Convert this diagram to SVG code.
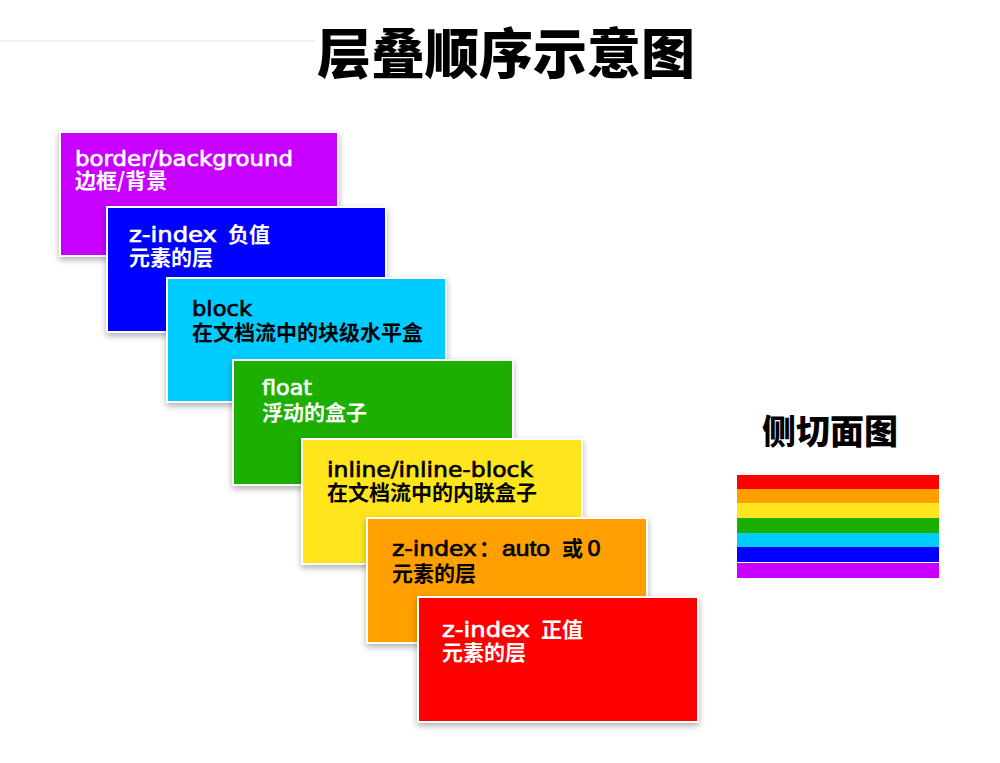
<svg xmlns="http://www.w3.org/2000/svg" width="1000" height="763" viewBox="0 0 1000 763">
<defs>
<filter id="sh" x="-10%" y="-10%" width="125%" height="130%">
<feDropShadow dx="0" dy="3" stdDeviation="3" flood-color="#000" flood-opacity="0.3"/>
</filter>
<style>
.box{stroke:#fff;stroke-width:2;filter:url(#sh)}
.lat{font-family:"DejaVu Sans","Liberation Sans",sans-serif;font-size:22px;stroke-width:0.7}
.cjk{font-family:"Noto Sans CJK SC",sans-serif;font-size:21px;font-weight:bold}
.w{fill:#fff}
.k{fill:#000}
.lat.w{stroke:#fff}
.lat.k{stroke:#000}
.thin{font-family:"Liberation Sans",sans-serif;stroke:none}
.title{font-family:"Noto Sans CJK SC",sans-serif;font-weight:900;fill:#000}
</style>
</defs>
<rect width="1000" height="763" fill="#fff"/>
<line x1="0" y1="41" x2="315" y2="41" stroke="#f2f2f2" stroke-width="2"/>
<text class="title" x="506" y="74" font-size="54" text-anchor="middle">层叠顺序示意图</text>

<g id="layer-background">
<rect class="box" x="60" y="132" width="278" height="124" fill="#c800ff"/>
<text class="lat w" x="75" y="166" textLength="218" lengthAdjust="spacingAndGlyphs">border/background</text>
<text class="cjk w" x="75" y="188">边框/背景</text>
</g>
<g id="layer-negative">
<rect class="box" x="107" y="207" width="279" height="125" fill="#0000ff"/>
<text class="lat w" x="129" y="242" textLength="88" lengthAdjust="spacingAndGlyphs">z-index</text>
<text class="cjk w" x="228" y="242">负值</text>
<text class="cjk w" x="129" y="265">元素的层</text>
</g>
<g id="layer-block">
<rect class="box" x="167" y="278" width="279" height="124" fill="#00ccff"/>
<text class="lat k" x="192" y="316" textLength="60" lengthAdjust="spacingAndGlyphs">block</text>
<text class="cjk k" x="192" y="340">在文档流中的块级水平盒</text>
</g>
<g id="layer-float">
<rect class="box" x="233" y="360" width="280" height="125" fill="#1aaf00"/>
<text class="lat w" x="262" y="395" textLength="50" lengthAdjust="spacingAndGlyphs">float</text>
<text class="cjk w" x="262" y="420">浮动的盒子</text>
</g>
<g id="layer-inline">
<rect class="box" x="302" y="439" width="280" height="125" fill="#ffe51e"/>
<text class="lat k" x="327" y="477" textLength="206" lengthAdjust="spacingAndGlyphs">inline/inline-block</text>
<text class="cjk k" x="327" y="500">在文档流中的内联盒子</text>
</g>
<g id="layer-zero">
<rect class="box" x="367" y="518" width="280" height="125" fill="#ffa000"/>
<text class="lat k" x="392" y="556" textLength="85" lengthAdjust="spacingAndGlyphs">z-index</text>
<text class="cjk k" x="479" y="556">：</text>
<text class="lat k thin" x="502" y="556" textLength="48" lengthAdjust="spacingAndGlyphs">auto</text>
<text class="cjk k" x="562" y="556">或</text>
<text class="lat k" x="587" y="556">0</text>
<text class="cjk k" x="392" y="581">元素的层</text>
</g>
<g id="layer-positive">
<rect class="box" x="418" y="597" width="280" height="125" fill="#ff0000"/>
<text class="lat w" x="442" y="637" textLength="88" lengthAdjust="spacingAndGlyphs">z-index</text>
<text class="cjk w" x="541" y="637">正值</text>
<text class="cjk w" x="442" y="660">元素的层</text>
</g>

<g id="side-section">
<text class="title" x="830" y="444" font-size="34" font-weight="bold" text-anchor="middle">侧切面图</text>
<rect x="737" y="475" width="202" height="14" fill="#ff0000"/>
<rect x="737" y="489" width="202" height="14" fill="#ffa000"/>
<rect x="737" y="503" width="202" height="15" fill="#ffe51e"/>
<rect x="737" y="518" width="202" height="15" fill="#1aaf00"/>
<rect x="737" y="533" width="202" height="14" fill="#00ccff"/>
<rect x="737" y="547" width="202" height="15" fill="#0000ff"/>
<rect x="737" y="563" width="202" height="15" fill="#c800ff"/>
</g>
<g id="connectors"/>
</svg>
